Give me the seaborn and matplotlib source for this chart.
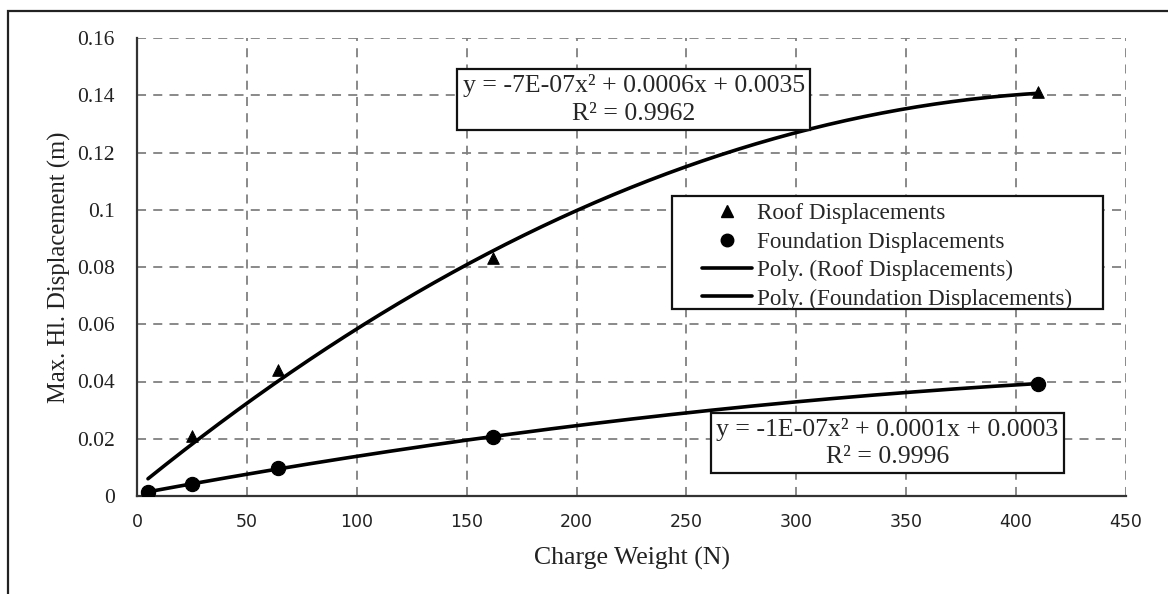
import numpy as np
import pandas as pd
import seaborn as sns
import matplotlib
matplotlib.use("Agg")
import matplotlib.pyplot as plt
from matplotlib.lines import Line2D
from matplotlib.patches import Rectangle

# ---- data ----
charge_weight = [5, 25, 64, 162, 410]
roof_disp = [0.0015, 0.021, 0.044, 0.083, 0.141]
foundation_disp = [0.0013, 0.0042, 0.0098, 0.0206, 0.0393]
x_ticks = [0, 50, 100, 150, 200, 250, 300, 350, 400, 450]
y_ticks = [0, 0.02, 0.04, 0.06, 0.08, 0.1, 0.12, 0.14, 0.16]
y_tick_labels = ["0", "0.02", "0.04", "0.06", "0.08", "0.1", "0.12", "0.14", "0.16"]
roof_eq = "y = -7E-07x² + 0.0006x + 0.0035\nR² = 0.9962"
found_eq = "y = -1E-07x² + 0.0001x + 0.0003\nR² = 0.9996"
legend_labels = ["Roof Displacements", "Foundation Displacements",
                 "Poly. (Roof Displacements)", "Poly. (Foundation Displacements)"]

sns.set_theme(style="white")
serif = ["Liberation Serif", "DejaVu Serif"]
plt.rcParams["font.family"] = serif

W, H = 1168, 594
df = pd.DataFrame({"w": charge_weight, "roof": roof_disp, "found": foundation_disp})

fig = plt.figure(figsize=(W/100, H/100), dpi=100)
ax = fig.add_axes([137/W, 1-496/H, (1126-137)/W, (496-38)/H])

# outer frame (partially visible)
fig.patches.append(Rectangle((8/W, -0.2), 2.0, 1.2 - 11/H,
                             transform=fig.transFigure, fill=False,
                             edgecolor="#222222", linewidth=1.6))

# trendlines (2nd order polynomial fits)
xs = np.linspace(min(charge_weight), max(charge_weight), 200)
for col in ["roof", "found"]:
    c = np.polyfit(df["w"], df[col], 2)
    sns.lineplot(x=xs, y=np.polyval(c, xs), ax=ax, color="black", linewidth=2.6, zorder=3)

sns.scatterplot(data=df, x="w", y="roof", marker="^", s=70, color="black",
                edgecolor="black", ax=ax, zorder=4)
sns.scatterplot(data=df, x="w", y="found", marker="o", s=105, color="black",
                edgecolor="black", ax=ax, zorder=5)

ax.set_xlim(0, 450)
ax.set_ylim(0, 0.16)
ax.set_xticks(x_ticks)
ax.set_yticks(y_ticks)
ax.set_yticklabels(y_tick_labels)
ax.set_xticklabels([str(v) for v in x_ticks], family=["DejaVu Sans"], fontsize=12.5)
for t in ax.get_yticklabels():
    t.set_fontsize(15.5)
ax.tick_params(axis="both", length=0, colors="#222222")
ax.tick_params(axis="y", pad=16)
ax.tick_params(axis="x", pad=12)
ax.grid(True, linestyle=(0, (5, 4)), color="#808080", linewidth=1.3)
for s in ["top", "right"]:
    ax.spines[s].set_visible(False)
for s in ["left", "bottom"]:
    ax.spines[s].set_color("#333333")
    ax.spines[s].set_linewidth(1.6)

ax.set_xlabel("Charge Weight (N)", fontsize=18.5, color="#222222", labelpad=12)
ax.set_ylabel("Max. Hl. Displacement (m)", fontsize=17.7, color="#222222", labelpad=4)

box = dict(boxstyle="square,pad=0.2", facecolor="white", edgecolor="#111111", linewidth=1.6)
ax.text(226.0, 0.1385, roof_eq, ha="center", va="center", fontsize=18.5,
        multialignment="center", bbox=box, zorder=6, linespacing=1.3)
ax.text(341.5, 0.0185, found_eq, ha="center", va="center", fontsize=18.5,
        multialignment="center", bbox=box, zorder=6, linespacing=1.3)

# legend frame drawn at the reference position
fig.patches.append(Rectangle((672/W, 1-309/H), (1103-672)/W, (309-196)/H,
                             transform=fig.transFigure, facecolor="white",
                             edgecolor="#111111", linewidth=1.6, zorder=4))
handles = [
    Line2D([], [], marker="^", color="black", linestyle="none", markersize=8),
    Line2D([], [], marker="o", color="black", linestyle="none", markersize=9),
    Line2D([], [], color="black", linewidth=2.6),
    Line2D([], [], color="black", linewidth=2.6),
]
leg = fig.legend(handles, legend_labels, loc="upper left",
                 bbox_to_anchor=(702/W, 1-203/H), fontsize=16.7,
                 frameon=False, handlelength=2.16, handletextpad=0.22,
                 labelspacing=0.31, borderpad=0, borderaxespad=0)
leg.set_zorder(5)

fig.savefig("out.png", dpi=100)
